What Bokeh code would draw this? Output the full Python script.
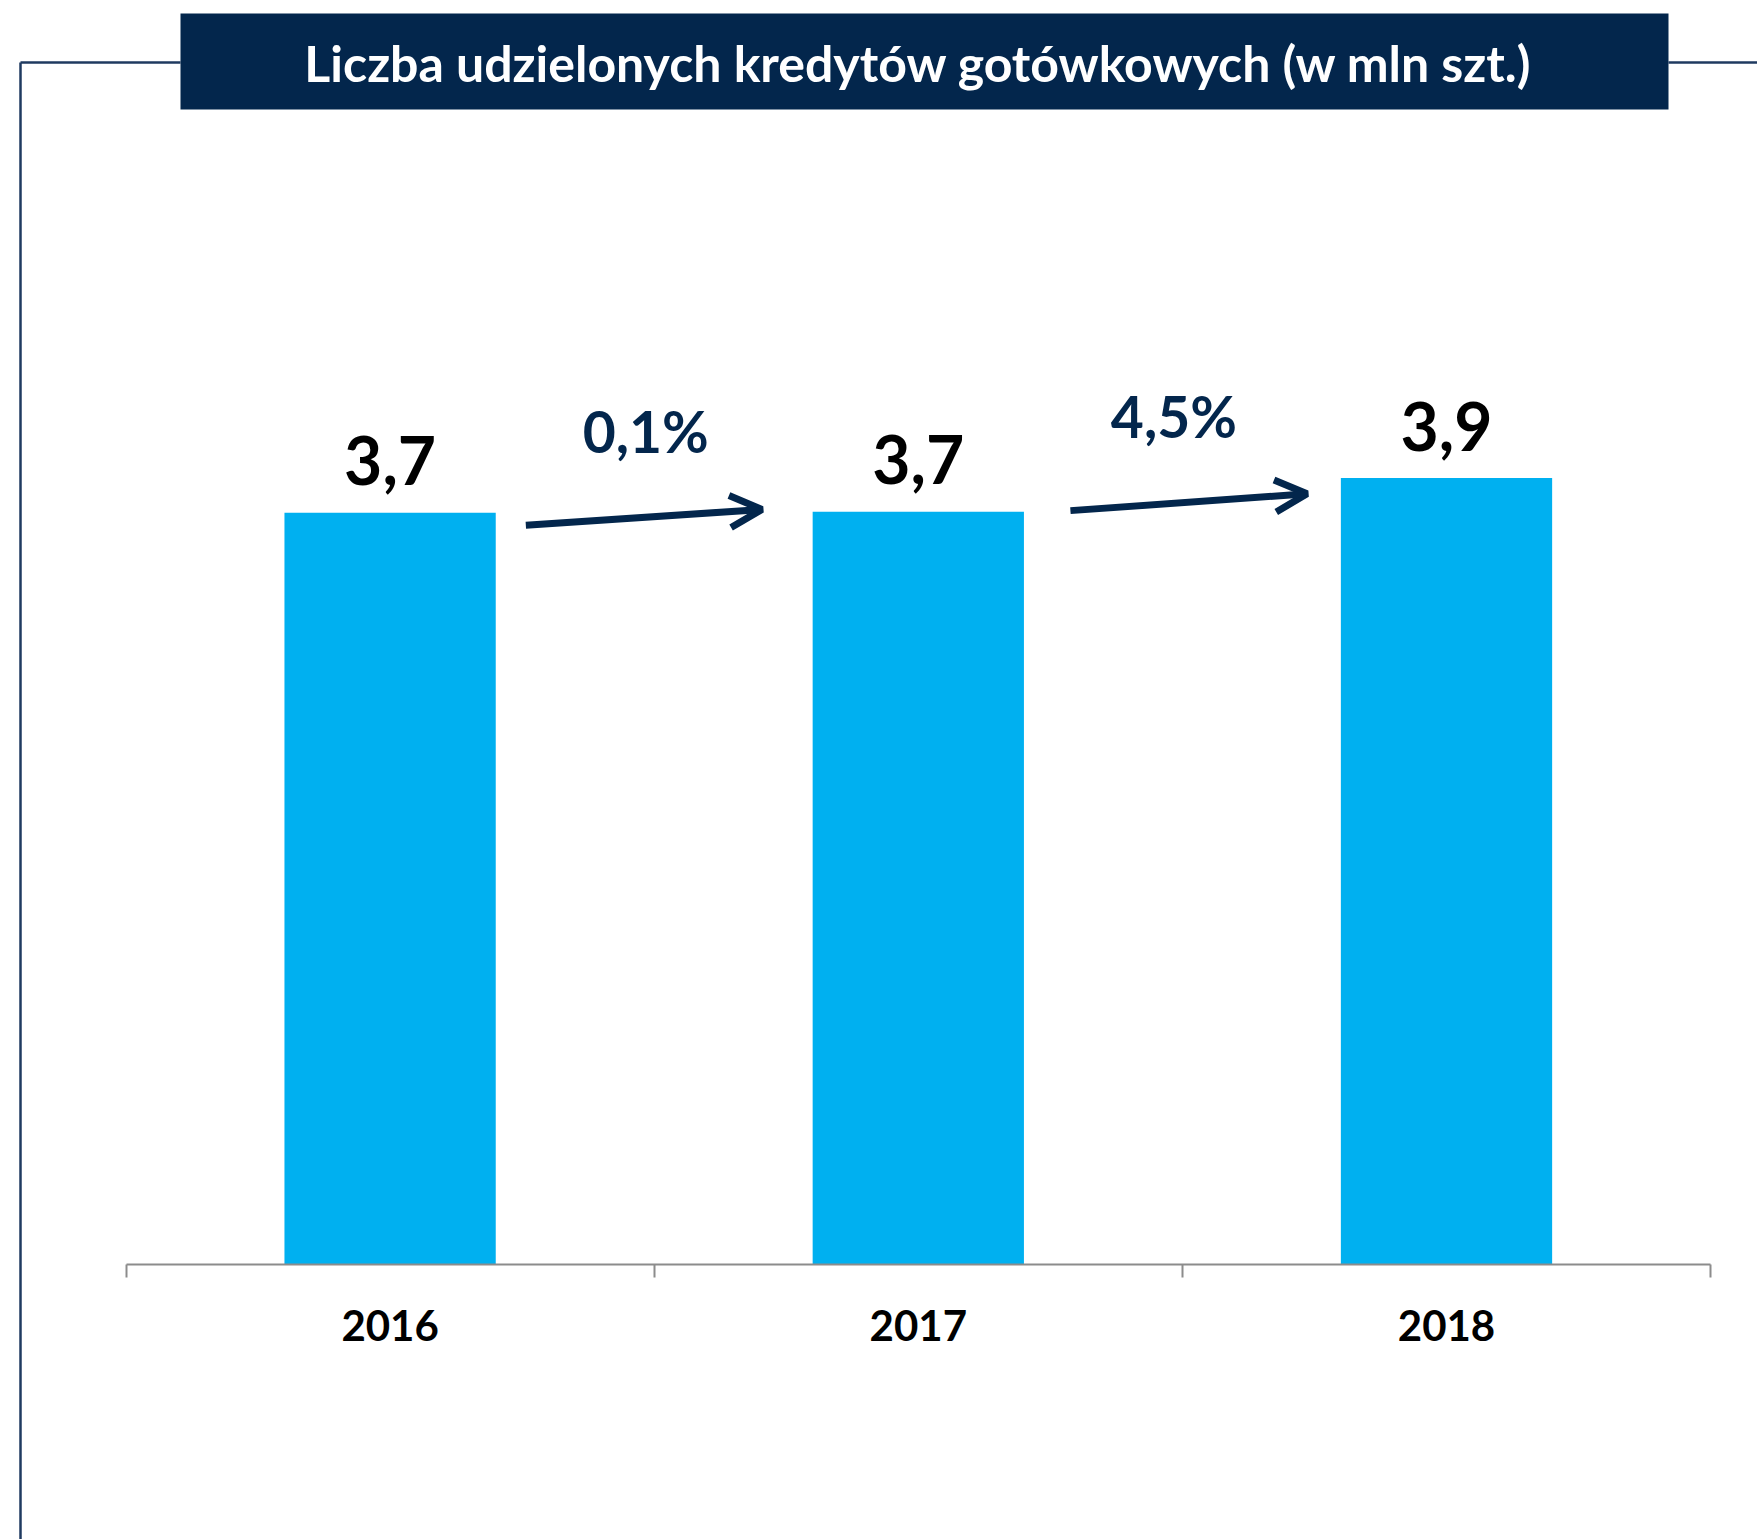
from bokeh.plotting import figure
from bokeh.models import Range1d, LinearAxis, FixedTicker, Arrow, OpenHead
from bokeh.core.properties import value
from bokeh.embed import file_html
from bokeh.resources import INLINE

# ---- data ----
years = ["2016", "2017", "2018"]
counts = [3.70, 3.704, 3.87]
count_labels = ["3,7", "3,7", "3,9"]
growth_labels = ["0,1%", "4,5%"]
title_text = "Liczba  udzielonych kredytów gotówkowych (w mln szt.)"

# ---- layout helpers (pixel <-> data) ----
W, H = 1757, 1539
PX_PER_X = 528.2
PX_PER_Y = 203.2
X0 = -0.5 - 125.5 / PX_PER_X
Y_TOP = 1264 / PX_PER_Y
X_END = X0 + W / PX_PER_X
Y_BOTTOM = Y_TOP - H / PX_PER_Y


def sx(px):
    return X0 + px / PX_PER_X


def sy(py):
    return Y_TOP - py / PX_PER_Y


NAVY = "#03264c"
FRAME = "#1f3a60"
BAR = "#00b0f0"
FONT = value("Lato")

p = figure(width=W, height=H, x_range=Range1d(X0, X_END), y_range=Range1d(Y_BOTTOM, Y_TOP),
           x_axis_type=None, y_axis_type=None, toolbar_location=None, output_backend="svg",
           min_border=0, min_border_left=0, min_border_right=0, min_border_top=0, min_border_bottom=0)
p.outline_line_color = None
p.background_fill_color = "white"
p.border_fill_color = "white"

xs = list(range(len(years)))

# frame lines
p.segment(x0=[sx(20), sx(1668), sx(20)], y0=[sy(62), sy(62), sy(62)],
          x1=[sx(180), sx(W + 20), sx(20)], y1=[sy(62), sy(62), sy(H + 20)],
          line_color=FRAME, line_width=2.5)

# title box
p.quad(left=[sx(180)], right=[sx(1668)], top=[sy(13)], bottom=[sy(109)],
       fill_color=NAVY, line_color=None)
p.text(x=[sx(924)], y=[sy(62)], text=[title_text], text_font=FONT, text_font_style="bold",
       text_font_size="50px", text_color="white", text_align="center", text_baseline="middle")

# bars
p.vbar(x=xs, top=counts, bottom=0, width=0.4, fill_color=BAR, line_color=None)

# value labels
p.text(x=xs, y=counts, text=count_labels, text_font=FONT, text_font_style="bold",
       text_font_size="66px", text_color="black", text_align="center",
       text_baseline="alphabetic", y_offset=-52)

# growth arrows (annotation placement between bars)
arrow_x_start = [0.257, 1.288]
arrow_x_end = [0.704, 1.736]
arrow_y_start = [counts[0] - 0.062, counts[1] + 0.006]
arrow_y_end = [counts[1] + 0.012, counts[2] - 0.077]
for i in range(len(growth_labels)):
    p.add_layout(Arrow(x_start=arrow_x_start[i], y_start=arrow_y_start[i],
                       x_end=arrow_x_end[i], y_end=arrow_y_end[i],
                       line_color=NAVY, line_width=7,
                       end=OpenHead(size=32, line_width=7, line_color=NAVY)))

p.text(x=[i + 0.484 for i in range(len(growth_labels))], y=arrow_y_end, text=growth_labels,
       text_font=FONT, text_font_style="bold", text_font_size="57px", text_color=NAVY,
       text_align="center", text_baseline="alphabetic", y_offset=-78)

# x axis
ax = LinearAxis(ticker=FixedTicker(ticks=xs, minor_ticks=[-0.5, 0.5, 1.5, 2.5]))
ax.fixed_location = 0
ax.bounds = (-0.5, 2.5)
ax.major_label_overrides = {i: y for i, y in enumerate(years)}
ax.axis_line_color = "#8c8c8c"
ax.axis_line_width = 2
ax.major_tick_out = 0
ax.major_tick_in = 0
ax.minor_tick_out = 13
ax.minor_tick_in = 0
ax.minor_tick_line_color = "#8c8c8c"
ax.minor_tick_line_width = 2
ax.major_label_text_font = "Lato"
ax.major_label_text_font_style = "bold"
ax.major_label_text_font_size = "42px"
ax.major_label_text_color = "black"
ax.major_label_standoff = 32
p.add_layout(ax, "below")

p.xgrid.visible = False
p.ygrid.visible = False

open("out.html", "w").write(file_html(p, INLINE))
